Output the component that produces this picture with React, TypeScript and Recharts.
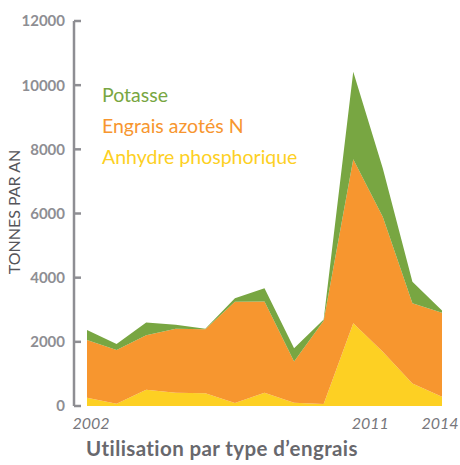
import React from 'react';
import { AreaChart, Area, XAxis, YAxis, Legend } from 'recharts';

const years = [2002, 2003, 2004, 2005, 2006, 2007, 2008, 2009, 2010, 2011, 2012, 2013, 2014];
const phosphore = [260, 70, 510, 415, 395, 90, 415, 105, 60, 2580, 1690, 705, 290];
const azote = [1800, 1675, 1695, 1995, 1995, 3160, 2840, 1280, 2600, 5110, 4200, 2495, 2620];
const potasse = [310, 190, 395, 125, 20, 105, 415, 415, 40, 2730, 1510, 675, 65];
const xTicks = [2002, 2011, 2014];
const yTicks = [0, 2000, 4000, 6000, 8000, 10000, 12000];

const data = years.map((year, i) => ({
  year,
  phosphore: phosphore[i],
  azote: azote[i],
  potasse: potasse[i],
}));

const FONT = 'Lato, "Open Sans", sans-serif';
const AXIS_GRAY = '#8e8e93';
const GREEN = '#78a642';
const ORANGE = '#f7962f';
const YELLOW = '#fdd023';

const YTick = (props: any) => {
  const { x, y, payload } = props;
  return (
    <g>
      <line x1={x + 9} x2={x + 16} y1={y} y2={y} stroke={AXIS_GRAY} strokeWidth={2.5} />
      <text x={x} y={y} dy="0.36em" textAnchor="end" fill={AXIS_GRAY} fontFamily={FONT} fontWeight={700} fontSize={15}>
        {payload.value}
      </text>
    </g>
  );
};

const xOffsets: Record<number, number> = { 2002: 4, 2011: 17, 2014: -2 };

const XTick = (props: any) => {
  const { x, y, payload } = props;
  return (
    <text x={x + (xOffsets[payload.value] || 0)} y={y + 3} dy="0.71em" textAnchor="middle" fill="#77777c" fontFamily={FONT} fontStyle="italic" fontSize={16}>
      {payload.value}
    </text>
  );
};

const renderLegend = (props: any) => {
  const items = [...(props.payload || [])].reverse();
  return (
    <div style={{ fontFamily: FONT, fontSize: 19.5, lineHeight: '31px', whiteSpace: 'nowrap' }}>
      {items.map((it: any) => (
        <div key={it.value} style={{ color: it.color }}>{it.value}</div>
      ))}
    </div>
  );
};

export default function App() {
  return (
    <div style={{ position: 'absolute', left: 0, top: 0, background: '#fff' }}>
      <AreaChart width={460} height={465} data={data} margin={{ top: 21, right: 18, bottom: 0, left: 0 }}>
        <XAxis
          dataKey="year"
          type="number"
          domain={[2002, 2014]}
          ticks={xTicks}
          interval={0}
          axisLine={false}
          tickLine={false}
          tickSize={0}
          tickMargin={9}
          tick={<XTick />}
          padding={{ left: 13, right: 0 }}
          height={59}
          label={{
            content: () => (
              <text x={222} y={456} textAnchor="middle" fill="#68686d" fontFamily={FONT} fontWeight={700} fontSize={20.5} letterSpacing={0.4}>
                Utilisation par type d’engrais
              </text>
            ),
          }}
        />
        <YAxis
          type="number"
          domain={[0, 12000]}
          ticks={yTicks}
          interval={0}
          width={74}
          axisLine={{ stroke: AXIS_GRAY, strokeWidth: 2.5 }}
          tickLine={false}
          tickSize={0}
          tickMargin={9}
          tick={<YTick />}
          label={{
            content: () => (
              <text transform="translate(14,212) rotate(-90)" textAnchor="middle" dy="0.36em" fill="#55555a" fontFamily={FONT} fontSize={16}>
                TONNES PAR AN
              </text>
            ),
          }}
        />
        <Legend
          layout="vertical"
          align="center"
          verticalAlign="middle"
          content={renderLegend}
          wrapperStyle={{ left: 102, top: 79, width: 'auto' }}
        />
        <Area type="linear" dataKey="phosphore" name="Anhydre phosphorique" stackId="1" stroke="none" fill={YELLOW} fillOpacity={1} isAnimationActive={false} />
        <Area type="linear" dataKey="azote" name="Engrais azotés N" stackId="1" stroke="none" fill={ORANGE} fillOpacity={1} isAnimationActive={false} />
        <Area type="linear" dataKey="potasse" name="Potasse" stackId="1" stroke="none" fill={GREEN} fillOpacity={1} isAnimationActive={false} />
      </AreaChart>
    </div>
  );
}
